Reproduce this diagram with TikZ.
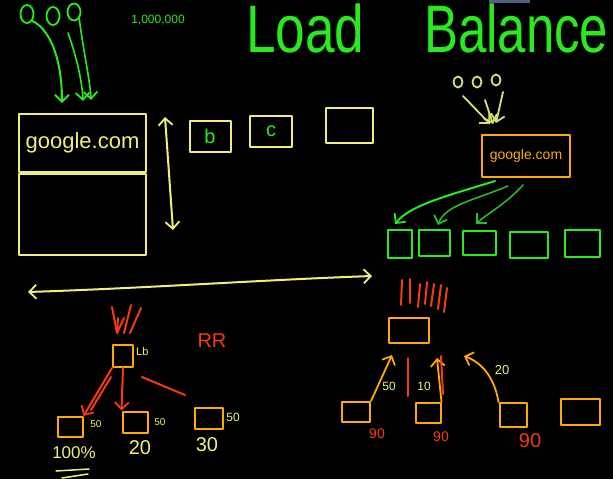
\documentclass[tikz,border=0pt]{standalone}
\usepackage{fontspec}
\setmainfont{Liberation Sans}
\usetikzlibrary{arrows.meta,shapes.geometric}
\definecolor{gr}{RGB}{40,235,30}
\definecolor{dgr}{RGB}{40,190,40}
\definecolor{yl}{RGB}{240,240,120}
\definecolor{pyl}{RGB}{215,225,120}
\definecolor{org}{RGB}{255,170,0}
\definecolor{rd}{RGB}{245,60,10}
\definecolor{slate}{RGB}{80,95,130}
\begin{document}
\begin{tikzpicture}[x=1pt,y=-1pt,line cap=round,line join=round,
  arr/.style={-{Straight Barb[length=7pt,width=14pt,line width=1.8pt]}},
  darr/.style={{Straight Barb[length=7pt,width=14pt,line width=1.8pt]}-{Straight Barb[length=7pt,width=14pt,line width=1.8pt]}},
  ybox/.style={draw=yl,line width=2pt,inner sep=0pt},
  obox/.style={draw=org,line width=2pt,inner sep=0pt},
  gbox/.style={draw=gr,line width=2pt,inner sep=0pt},
  circ/.style={ellipse,line width=1.8pt,inner sep=0pt},
  lbl/.style={inner sep=0pt},
  tally/.style={draw=rd,line width=2pt}]
\fill[black] (0,0) rectangle (613,479);
\useasboundingbox (0,0) rectangle (613,479);
\fill[slate] (489,0) rectangle (530,3);

% title
\node[lbl,gr,anchor=base west,font=\fontsize{56}{56}\selectfont] (load) at (246,52) {\scalebox{0.95}[1.2]{Load}};
\node[lbl,gr,anchor=base west,font=\fontsize{56}{56}\selectfont] (bal) at (424,52) {\scalebox{0.91}[1.2]{Balance}};

% left top users
\node[circ,draw=gr,minimum width=13pt,minimum height=18pt] (c1) at (27,14) {};
\node[circ,draw=gr,minimum width=13pt,minimum height=18pt] (c2) at (53,16) {};
\node[circ,draw=gr,minimum width=13pt,minimum height=17pt] (c3) at (74,12) {};
\node[lbl,gr,font=\fontsize{12}{12}\selectfont] (mil) at (158,20) {1,000,000};

% google box
\node[ybox,minimum width=127pt,minimum height=58pt,anchor=north west,text=yl,font=\fontsize{22}{22}\selectfont] (gtop) at (18,113) {google.com};
\node[ybox,minimum width=127pt,minimum height=81pt,anchor=north] (gbot) at (gtop.south) {};

\coordinate (e1) at (62,103);
\coordinate (e2) at (83,101);
\coordinate (e3) at (91,100);
\draw[gr,line width=2pt,arr] (c1.south east) .. controls (48,28) and (62,55) .. (e1);
\draw[gr,line width=1.6pt,arr] (68,33) .. controls (76,55) and (82,80) .. (e2);
\draw[gr,line width=1.6pt,arr] (c3.south east) .. controls (84,55) and (90,80) .. (e3);

% vertical double arrow
\coordinate (v1) at (165,117);
\coordinate (v2) at (173,230);
\draw[yl,line width=2pt,darr] (v1) -- (v2);

% small boxes
\node[ybox,minimum width=41pt,minimum height=31pt,text=gr,font=\fontsize{20}{20}\selectfont] (bb) at (210,136) {b};
\node[ybox,minimum width=42pt,minimum height=31pt,text=gr,font=\fontsize{20}{20}\selectfont] (cb) at (271,131) {c};
\node[ybox,minimum width=47pt,minimum height=35pt] (eb) at (349,125) {};

% horizontal double arrow
\coordinate (h1) at (28,292);
\coordinate (h2) at (372,276);
\draw[yl,line width=2pt,darr] (h1) .. controls (150,288) and (260,280) .. (h2);

% top right
\node[circ,draw=pyl,minimum width=9pt,minimum height=11pt] (d1) at (458,82) {};
\node[circ,draw=pyl,minimum width=9pt,minimum height=11pt] (d2) at (477,82) {};
\node[circ,draw=pyl,minimum width=9pt,minimum height=11pt] (d3) at (496,80) {};
\node[obox,minimum width=88pt,minimum height=42pt,text=org,font=\fontsize{14}{14}\selectfont] (ob) at (526,156) {google.com};
\coordinate (t1) at (490,124);
\coordinate (t2) at (493,124);
\coordinate (t3) at (496,123);
\draw[pyl,line width=1.8pt,arr] (463,96) -- (t1);
\draw[pyl,line width=1.8pt,arr] (485,100) -- (t2);
\draw[pyl,line width=1.8pt,arr] (503,92) -- (t3);

% green servers
\node[gbox,minimum width=24pt,minimum height=28pt] (g1) at (400,244) {};
\node[gbox,minimum width=31pt,minimum height=26pt] (g2) at (434,243) {};
\node[gbox,minimum width=33pt,minimum height=24pt] (g3) at (479,243) {};
\node[gbox,minimum width=38pt,minimum height=26pt] (g4) at (529,245) {};
\node[gbox,minimum width=35pt,minimum height=27pt] (g5) at (582,243) {};
\coordinate (ga1) at (395,224);
\coordinate (ga2) at (438,225);
\coordinate (ga3) at (476,224);
\draw[gr,line width=2pt,arr] (495,181) .. controls (450,195) and (410,205) .. (ga1);
\draw[dgr,line width=1.5pt,arr] (508,186) .. controls (475,200) and (445,205) .. (ga2);
\draw[dgr,line width=1.5pt,arr] (523,185) .. controls (505,205) and (485,215) .. (ga3);

% right tally
\foreach \a/\b/\c/\d in {402/280/401/305, 410/279/410/303, 420/284/418/307, 427/282/425/304, 434/284/431/306, 441/285/438/309, 447/288/444/312}
  \draw[tally] (\a,\b) -- (\c,\d);

% right load balancer
\node[obox,minimum width=40pt,minimum height=25pt] (rlb) at (409,330) {};
\node[obox,minimum width=28pt,minimum height=20pt] (r1) at (356,412) {};
\node[obox,minimum width=25pt,minimum height=20pt] (r2) at (428,413) {};
\node[obox,minimum width=27pt,minimum height=24pt] (r3) at (513,415) {};
\node[obox,minimum width=39pt,minimum height=26pt] (r4) at (580,412) {};
\coordinate (ra1) at (392,355);
\coordinate (ra2) at (437,358);
\coordinate (ra3) at (464,356);
\draw[org,line width=1.8pt,arr] (r1.north east) -- (ra1);
\draw[org,line width=1.8pt,arr] (r2.north east) -- (ra2);
\draw[org,line width=1.8pt,arr] (r3.north west) .. controls (494,375) and (480,362) .. (ra3);
\draw[tally] (408,358) -- (408,396);
\draw[tally] (441,356) -- (443,394);
\node[lbl,yl,font=\fontsize{12}{12}\selectfont] (l50) at (389,386) {50};
\node[lbl,yl,font=\fontsize{12}{12}\selectfont] (l10) at (424,386) {10};
\node[lbl,yl,font=\fontsize{13}{13}\selectfont] (l20) at (502,370) {20};
\node[lbl,rd,font=\fontsize{14}{14}\selectfont] (n1) at (377,434) {90};
\node[lbl,rd,font=\fontsize{14}{14}\selectfont] (n2) at (441,437) {90};
\node[lbl,rd,font=\fontsize{20}{20}\selectfont] (n3) at (530,441) {90};

% left load balancer
\node[obox,minimum width=20pt,minimum height=22pt] (llb) at (123,356) {};
\node[lbl,yl,anchor=west,font=\fontsize{11}{11}\selectfont] (lbt) at (136,352) {Lb};
\node[lbl,rd,font=\fontsize{20}{20}\selectfont] (rr) at (212,341) {RR};
\draw[tally] (112,307) -- (117,333);
\draw[tally] (118,318) -- (117,333) -- (124,318);
\draw[tally] (131,305) -- (124,333);
\draw[tally] (141,308) -- (130,333);

\node[obox,minimum width=25pt,minimum height=20pt] (l1) at (70,427) {};
\node[obox,minimum width=25pt,minimum height=21pt] (l2) at (135,422) {};
\node[obox,minimum width=28pt,minimum height=21pt] (l3) at (209,418) {};
\draw[rd,line width=2pt,arr] (llb.south west) -- (l1.north east);
\draw[rd,line width=2pt] (111,377) -- (91,410);
\draw[rd,line width=2pt,arr] (llb.south) -- (l2.north west);
\draw[rd,line width=2pt] (142,377) -- (185,395);
\node[lbl,yl,font=\fontsize{10}{10}\selectfont] (f1) at (96,424) {50};
\node[lbl,yl,font=\fontsize{10}{10}\selectfont] (f2) at (160,422) {50};
\node[lbl,yl,font=\fontsize{12}{12}\selectfont] (f3) at (233,417) {50};
\node[lbl,yl,font=\fontsize{17}{17}\selectfont] (p1) at (74,453) {100\%};
\node[lbl,yl,font=\fontsize{20}{20}\selectfont] (p2) at (140,448) {20};
\node[lbl,yl,font=\fontsize{20}{20}\selectfont] (p3) at (207,445) {30};
\draw[yl,line width=1.5pt] (56,471) -- (89,469);
\draw[yl,line width=1.5pt] (62,478) -- (88,474);
\end{tikzpicture}
\end{document}
